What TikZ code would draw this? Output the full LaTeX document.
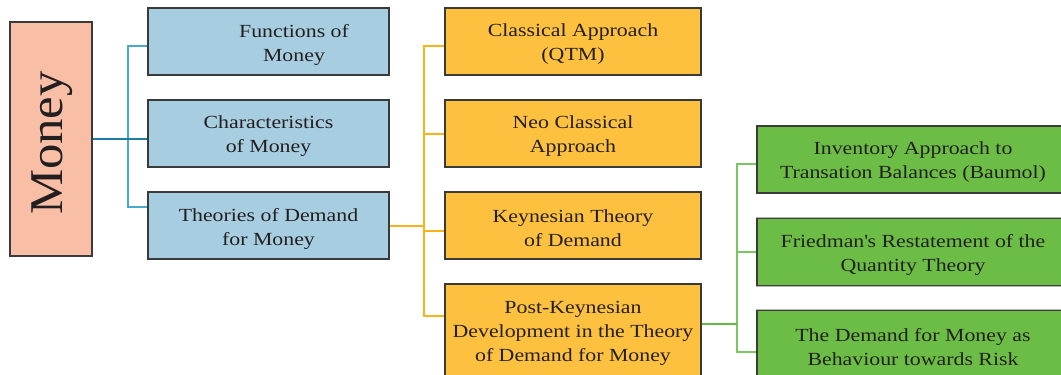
\documentclass[tikz,border=0pt]{standalone}
\usepackage{fontspec}
\setmainfont{Liberation Serif}[FakeStretch=1.18]
\newfontfamily\rootfont{Liberation Serif}[FakeStretch=1.08]
\definecolor{moneyfill}{HTML}{F9BEA6}
\definecolor{bluefill}{HTML}{A7CDE0}
\definecolor{orangefill}{HTML}{FDC13F}
\definecolor{greenfill}{HTML}{6CBD45}
\definecolor{boxline}{HTML}{3A3A3A}
\definecolor{halo}{HTML}{B8B8B8}
\definecolor{txt}{HTML}{231F20}
\definecolor{tealmaincol}{HTML}{1B7DA6}
\definecolor{tealthincol}{HTML}{4BA7CB}
\definecolor{orangeline}{HTML}{F8B319}
\definecolor{greenline}{HTML}{66BB46}
\begin{document}
\begin{tikzpicture}[x=1pt,y=-1pt,
  box/.style={draw=boxline, line width=1.1pt, inner sep=0pt,
    preaction={draw=halo, line width=2.4pt}},
  bluebox/.style={box, fill=bluefill, minimum width=241pt, minimum height=67pt},
  orangebox/.style={box, fill=orangefill, minimum width=256pt, minimum height=67pt},
  greenbox/.style={box, fill=greenfill, minimum width=312pt, minimum height=67pt},
  lbl/.style={font=\fontsize{18.5}{24}\selectfont, align=center, text=txt, yshift=-3pt},
  tx/.style={label={[lbl]center:#1}},
  tealmain/.style={draw=tealmaincol, line width=2pt},
  tealthin/.style={draw=tealthincol, line width=1.3pt},
  orangemain/.style={draw=orangeline, line width=2pt},
  orangethin/.style={draw=orangeline, line width=1.3pt},
  greenmain/.style={draw=greenline, line width=2pt},
  greenthin/.style={draw=greenline!85!white, line width=1.3pt}]
\useasboundingbox (0,0) rectangle (1061,375);
\clip (0,0) rectangle (1061,375);

% root
\node[box, fill=moneyfill, minimum width=82pt, minimum height=234pt] (money) at (51,139) {};
\node[rotate=90, font=\rootfont\fontsize{47}{50}\selectfont, text=txt] (moneytext) at (52,143) {Money};

% first level (the first label sits right of centre)
\node[bluebox] (fun) at (268.5,41.5) {};
\node[lbl] (funtext) at (294,41.5) {Functions of\\Money};
\node[bluebox, tx={Characteristics\\of Money}] (char) at (268.5,133.5) {};
\node[bluebox, tx={Theories of Demand\\for Money}] (thr) at (268.5,225.5) {};

% theories
\node[orangebox, tx={Classical Approach\\(QTM)}] (cla) at (573,41.5) {};
\node[orangebox, tx={Neo Classical\\Approach}] (neo) at (573,133.5) {};
\node[orangebox, tx={Keynesian Theory\\of Demand}] (key) at (573,225.5) {};
\node[orangebox, minimum height=93pt,
  tx={Post-Keynesian\\Development in the Theory\\of Demand for Money}] (post) at (573,330.5) {};

% post-Keynesian developments
\node[greenbox, tx={Inventory Approach to\\Transation Balances (Baumol)}] (inv) at (913,159.5) {};
\node[greenbox, tx={Friedman\textquotesingle s Restatement of the\\Quantity Theory}] (fri) at (913,252) {};
\node[greenbox, tx={The Demand for Money as\\Behaviour towards Risk}] (risk) at (913,344) {};

% bus coordinates
\coordinate (tb1) at (128,46);
\coordinate (tb3) at (128,207);
\coordinate (ob1) at (424,46);
\coordinate (ob2) at (424,134);
\coordinate (ob3) at (424,231);
\coordinate (ob4) at (424,316);
\coordinate (gb1) at (737,164);
\coordinate (gb2) at (737,252);
\coordinate (gb3) at (737,352);

% money -> first level
\draw[tealthin] (fun.west |- tb1) -- (tb1) -- (tb3) -- (thr.west |- tb3);
\draw[tealmain] (money.east) -- (money.east -| char.west);

% theories -> approaches
\draw[orangethin] (cla.west |- ob1) -- (ob1) -- (ob4) -- (post.west |- ob4);
\draw[orangethin] (ob2) -- (neo.west |- ob2);
\draw[orangethin] (ob3) -- (key.west |- ob3);
\draw[orangemain] (thr.east) -- (thr.east -| ob1);

% post-Keynesian -> developments
\draw[greenthin] (inv.west |- gb1) -- (gb1) -- (gb3) -- (risk.west |- gb3);
\draw[greenthin] (gb2) -- (fri.west |- gb2);
\draw[greenmain] ([yshift=6.5pt]post.east) -- ([yshift=6.5pt]post.east -| gb1);
\end{tikzpicture}
\end{document}
